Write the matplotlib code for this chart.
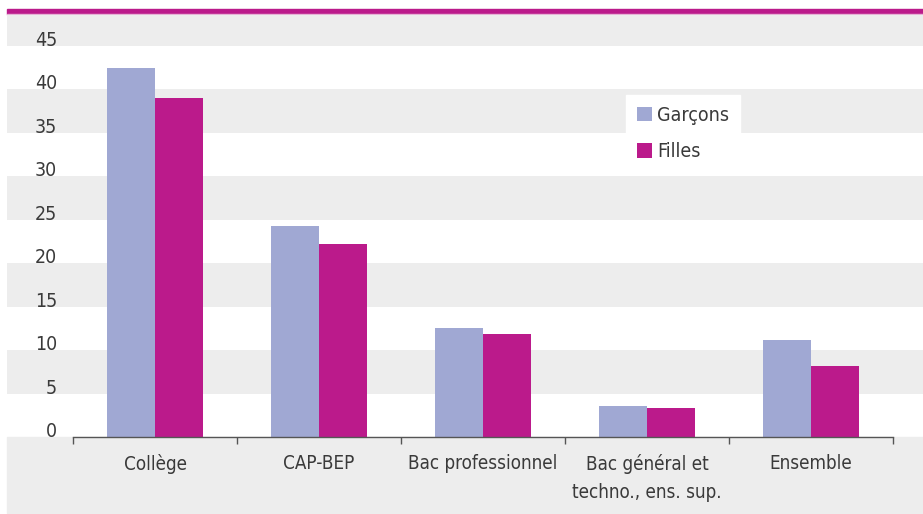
import matplotlib.pyplot as plt
from matplotlib.patches import Rectangle

categories = ["Collège", "CAP-BEP", "Bac professionnel",
              "Bac général et\ntechno., ens. sup.", "Ensemble"]
garcons = [42.5, 24.3, 12.5, 3.6, 11.2]
filles = [39.0, 22.2, 11.9, 3.3, 8.2]
yticks = [0, 5, 10, 15, 20, 25, 30, 35, 40, 45]

c_garcons = "#A0A8D3"
c_filles = "#BB1A8B"
band = "#EDEDED"
txt = "#3A3A3A"
plt.rcParams["font.family"] = ["DejaVu Sans"]
plt.rcParams["font.stretch"] = "condensed"

W, H = 923, 514
fig = plt.figure(figsize=(W / 100, H / 100), dpi=100)

# grey strip under the axis and magenta rule on top
fig.patches.append(Rectangle((7 / W, 1 / H), 1 - 7 / W, (H - 437 - 1) / H,
                             transform=fig.transFigure, color=band, zorder=-5))
fig.patches.append(Rectangle((7 / W, (H - 14) / H), 1 - 7 / W, 5 / H,
                             transform=fig.transFigure, color=c_filles, zorder=-5))
fig.patches.append(Rectangle((7 / W, (H - 15) / H), 1 - 7 / W, 1 / H,
                             transform=fig.transFigure, color="#E6B3D6", zorder=-5))

ax = fig.add_axes([7 / W, (H - 437) / H, 1 - 7 / W, (437 - 15) / H])
ax.set_zorder(2)
ax.patch.set_alpha(0)
ax.set_ylim(0, (437 - 15) / 8.69)
ax.set_xlim((7 - 155) / 164, (923 - 155) / 164)

# alternating bands
for lo in range(5, 50, 10):
    ax.axhspan(lo, lo + 5, color=band, lw=0, zorder=0)

x = list(range(len(categories)))
w = 0.29
ax.bar([i - w / 2 for i in x], garcons, w, color=c_garcons, label="Garçons", zorder=2)
ax.bar([i + w / 2 for i in x], filles, w, color=c_filles, label="Filles", zorder=2)

for s in ["top", "right", "left"]:
    ax.spines[s].set_visible(False)
ax.spines["bottom"].set_color("#555555")
ax.spines["bottom"].set_linewidth(1)
ax.spines["bottom"].set_zorder(3)
ax.spines["bottom"].set_bounds(-0.5, len(categories) - 0.5)

ax.set_yticks([])
ax.set_xticks(x)
ax.set_xticklabels(categories, fontsize=13.5, color=txt, linespacing=1.6, va="top")
ax.tick_params(axis="x", which="major", length=0, pad=12)
ax.set_xticks([i - 0.5 for i in range(len(categories) + 1)], minor=True)
ax.tick_params(axis="x", which="minor", length=5, width=1, color="#555555",
               direction="out")

ytrans = ax.get_yaxis_transform()
for v in yticks:
    ax.text(50 / 916, v, str(v), transform=ytrans, ha="right",
            va="baseline", fontsize=14, color=txt)

leg = ax.legend(loc="upper left", bbox_to_anchor=(626 / W, (H - 95) / H),
                bbox_transform=fig.transFigure, frameon=True, fancybox=False,
                fontsize=14, handlelength=0.8, handleheight=0.8,
                handletextpad=0.25, labelspacing=0.9, borderpad=0.55,
                borderaxespad=0)
leg.get_frame().set_facecolor("white")
leg.get_frame().set_edgecolor("white")
leg.get_frame().set_alpha(1)
for t in leg.get_texts():
    t.set_color(txt)

fig.savefig("out.png", dpi=100, facecolor="white")
